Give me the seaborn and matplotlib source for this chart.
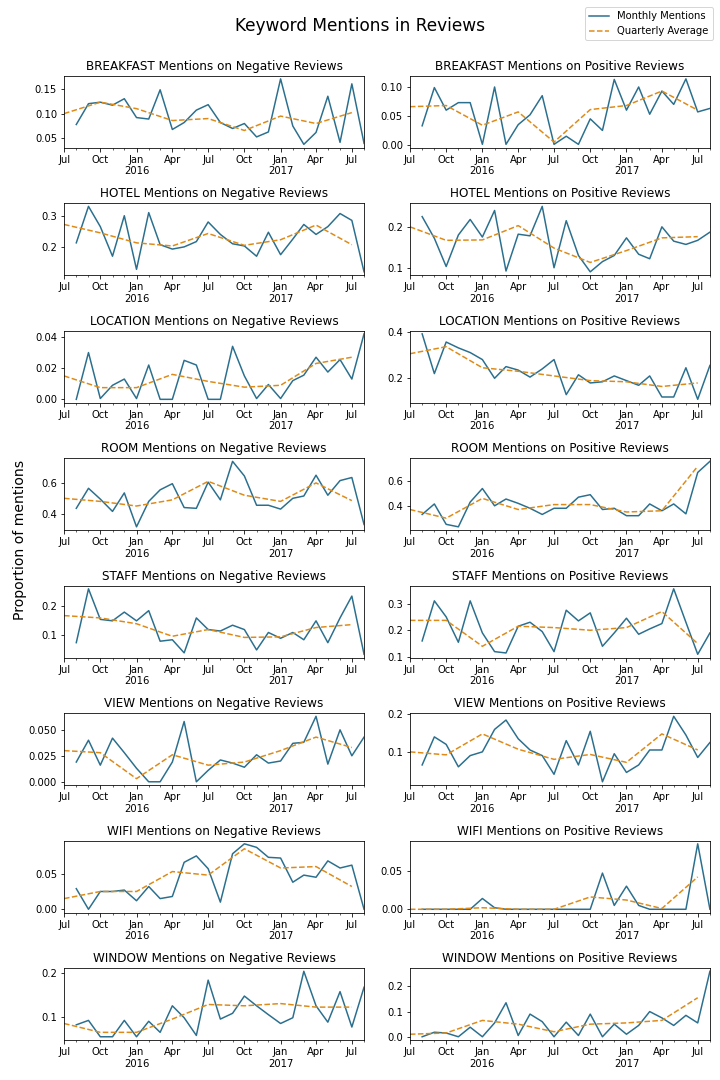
import pandas as pd
import numpy as np
import matplotlib
matplotlib.use("Agg")
import matplotlib.pyplot as plt
import matplotlib.dates as mdates
from matplotlib.ticker import FuncFormatter
import seaborn as sns

# Datas (mensal: Ago/2015 a Ago/2017, trimestral: Jul/2015 a Jul/2017)
monthly_dates = pd.date_range("2015-08-01", "2017-08-01", freq="MS")
quarter_dates = pd.date_range("2015-07-01", "2017-07-01", freq="QS-JUL")

keywords = ["BREAKFAST", "HOTEL", "LOCATION", "ROOM", "STAFF", "VIEW", "WIFI", "WINDOW"]

# Valores mensais (negativo / positivo)
breakfast_neg = [.078, .120, .123, .117, .130, .092, .089, .148, .068, .082, .107, .118, .082,
                 .070, .080, .053, .063, .170, .075, .038, .062, .135, .042, .160, .040]
breakfast_pos = [.033, .099, .060, .073, .073, .001, .100, .001, .035, .052, .085, .001, .015,
                 .001, .045, .025, .113, .060, .100, .053, .093, .070, .114, .057, .063]
hotel_neg = [.213, .330, .265, .170, .300, .128, .310, .207, .193, .200, .217, .280, .240,
             .210, .203, .170, .247, .175, .225, .272, .240, .265, .307, .285, .120]
hotel_pos = [.225, .172, .103, .180, .218, .175, .240, .092, .182, .178, .250, .100, .215,
             .130, .090, .115, .130, .173, .133, .122, .200, .165, .157, .167, .187]
location_neg = [.000, .030, .0005, .009, .013, .0005, .022, .000, .000, .025, .022, .000, .000,
                .034, .015, .0005, .0095, .0005, .012, .0155, .027, .0175, .0255, .013, .042]
location_pos = [.390, .220, .355, .330, .310, .280, .200, .250, .235, .205, .240, .280, .130,
                .215, .180, .185, .210, .190, .170, .210, .120, .120, .245, .110, .255]
room_neg = [.435, .565, .495, .415, .535, .315, .480, .555, .595, .440, .435, .605, .490,
            .740, .645, .455, .455, .430, .500, .515, .650, .520, .615, .635, .330]
room_pos = [.330, .415, .250, .230, .430, .540, .400, .455, .420, .380, .330, .380, .380,
            .470, .490, .370, .380, .320, .320, .415, .360, .415, .335, .670, .760]
staff_neg = [.075, .260, .155, .150, .180, .150, .185, .080, .085, .040, .160, .120, .115,
             .135, .120, .050, .110, .090, .110, .085, .150, .075, .160, .235, .035]
staff_pos = [.160, .310, .250, .155, .310, .190, .120, .115, .215, .230, .195, .120, .275,
             .235, .265, .140, .190, .245, .185, .205, .225, .355, .230, .110, .190]
view_neg = [.019, .040, .016, .042, .028, .013, .000, .000, .019, .058, .000, .011, .021,
            .018, .014, .026, .018, .020, .037, .038, .063, .017, .050, .025, .043]
view_pos = [.065, .140, .120, .060, .090, .100, .160, .185, .135, .105, .090, .040, .130,
            .065, .155, .020, .095, .045, .065, .105, .105, .195, .145, .085, .125]
wifi_neg = [.029, .000, .025, .025, .027, .012, .032, .015, .018, .066, .075, .057, .010,
            .078, .092, .087, .073, .072, .038, .048, .045, .068, .058, .062, .000]
wifi_pos = [.000, .000, .000, .000, .000, .014, .002, .000, .000, .000, .000, .000, .000,
            .000, .000, .047, .005, .030, .005, .000, .000, .000, .000, .085, .000]
window_neg = [.082, .092, .055, .055, .092, .055, .090, .065, .125, .098, .058, .183, .095,
              .108, .147, .125, .105, .085, .098, .203, .125, .088, .157, .077, .167]
window_pos = [.000, .018, .015, .000, .038, .000, .055, .135, .005, .090, .060, .000, .058,
              .005, .090, .000, .050, .010, .045, .100, .075, .045, .085, .055, .260]

# Médias trimestrais
breakfast_neg_q = [.100, .123, .110, .086, .090, .066, .095, .080, .102]
breakfast_pos_q = [.066, .068, .034, .057, .005, .061, .068, .093, .060]
hotel_neg_q = [.272, .245, .213, .203, .243, .205, .223, .270, .207]
hotel_pos_q = [.200, .167, .168, .203, .148, .113, .142, .173, .176]
location_neg_q = [.015, .0075, .0075, .016, .0115, .0078, .009, .023, .027]
location_pos_q = [.305, .335, .245, .230, .210, .190, .185, .165, .180]
room_neg_q = [.500, .480, .450, .490, .610, .520, .480, .600, .485]
room_pos_q = [.370, .300, .460, .370, .410, .410, .350, .360, .720]
staff_neg_q = [.168, .160, .140, .097, .120, .093, .095, .127, .137]
staff_pos_q = [.237, .237, .140, .215, .210, .200, .210, .270, .150]
view_neg_q = [.030, .028, .003, .026, .016, .019, .030, .043, .033]
view_pos_q = [.100, .092, .148, .107, .080, .093, .072, .148, .105]
wifi_neg_q = [.015, .025, .025, .053, .048, .085, .058, .060, .032]
wifi_pos_q = [.000, .000, .002, .000, .000, .016, .012, .001, .042]
window_neg_q = [.085, .065, .065, .095, .128, .125, .130, .122, .122]
window_pos_q = [.010, .015, .065, .050, .020, .050, .055, .065, .155]

monthly = {
    "BREAKFAST": (breakfast_neg, breakfast_pos), "HOTEL": (hotel_neg, hotel_pos),
    "LOCATION": (location_neg, location_pos), "ROOM": (room_neg, room_pos),
    "STAFF": (staff_neg, staff_pos), "VIEW": (view_neg, view_pos),
    "WIFI": (wifi_neg, wifi_pos), "WINDOW": (window_neg, window_pos),
}
quarterly = {
    "BREAKFAST": (breakfast_neg_q, breakfast_pos_q), "HOTEL": (hotel_neg_q, hotel_pos_q),
    "LOCATION": (location_neg_q, location_pos_q), "ROOM": (room_neg_q, room_pos_q),
    "STAFF": (staff_neg_q, staff_pos_q), "VIEW": (view_neg_q, view_pos_q),
    "WIFI": (wifi_neg_q, wifi_pos_q), "WINDOW": (window_neg_q, window_pos_q),
}

# Ticks do eixo y por painel (neg, pos)
yticks = {
    "BREAKFAST": ([.05, .10, .15], [0.00, 0.05, 0.10]),
    "HOTEL": ([0.2, 0.3], [0.1, 0.2]),
    "LOCATION": ([0.00, 0.02, 0.04], [0.2, 0.4]),
    "ROOM": ([0.4, 0.6], [0.4, 0.6]),
    "STAFF": ([0.1, 0.2], [0.1, 0.2, 0.3]),
    "VIEW": ([0.000, 0.025, 0.050], [0.1, 0.2]),
    "WIFI": ([0.00, 0.05], [0.00, 0.05]),
    "WINDOW": ([0.1, 0.2], [0.0, 0.1, 0.2]),
}

line_color = "#2a6f8e"
avg_color = "#de8a17"


def fmt_date(x, pos):
    d = mdates.num2date(x)
    label = d.strftime("%b")
    if d.month == 1:
        label += "\n" + str(d.year)
    return label


fig, axes = plt.subplots(8, 2, figsize=(10, 15))
plt.subplots_adjust(left=0.089, right=0.986, top=0.930, bottom=0.037,
                    hspace=0.77, wspace=0.153)

for i, kw in enumerate(keywords):
    for j, sent in enumerate(["Negative", "Positive"]):
        ax = axes[i, j]
        sns.lineplot(x=monthly_dates, y=monthly[kw][j], ax=ax, color=line_color,
                     linewidth=1.5, label="Monthly Mentions", legend=False)
        sns.lineplot(x=quarter_dates, y=quarterly[kw][j], ax=ax, color=avg_color,
                     linewidth=1.5, linestyle="--", label="Quarterly Average", legend=False)
        ax.set_xlim(quarter_dates[0], monthly_dates[-1])
        ax.set_yticks(yticks[kw][j])
        ax.xaxis.set_major_locator(mdates.MonthLocator(bymonth=[1, 4, 7, 10]))
        ax.xaxis.set_minor_locator(mdates.MonthLocator())
        ax.xaxis.set_major_formatter(FuncFormatter(fmt_date))
        ax.set_title(f"{kw} Mentions on {sent} Reviews", fontsize=12)
        ax.set_xlabel("")
        ax.set_ylabel("")
        ax.tick_params(labelsize=10)

handles = axes[0, 0].get_lines()[:2]
fig.legend(handles, ["Monthly Mentions", "Quarterly Average"], loc="upper right",
           bbox_to_anchor=(0.997, 0.998), fontsize=10)
fig.suptitle("Keyword Mentions in Reviews", fontsize=17, y=0.984)
fig.text(0.028, 0.5, "Proportion of mentions", rotation=90, va="center", ha="center",
         fontsize=14)

plt.savefig("out.png", dpi=72)
